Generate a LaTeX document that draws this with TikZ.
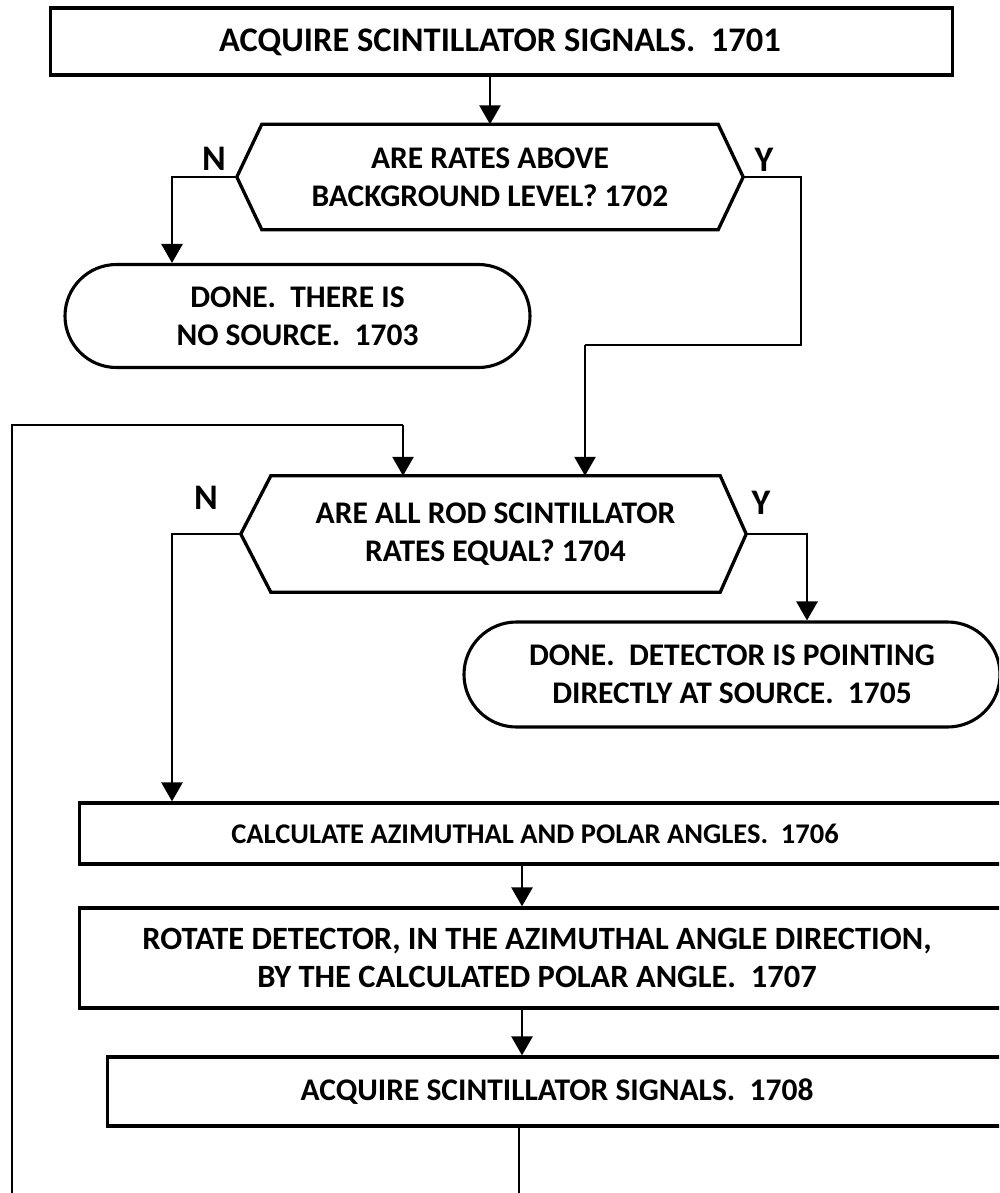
\documentclass[tikz,border=0pt]{standalone}
\usepackage{fontspec}
\setmainfont{Carlito}
\usetikzlibrary{arrows.meta,shapes.misc}
\tikzset{
  every node/.style={font=\fontsize{31.5}{38}\selectfont\bfseries, inner sep=0pt, align=center},
  ln/.style={line width=2.7pt, line join=miter},
  arr/.style={ln, -{Triangle[width=21pt,length=19pt]}},
  boxnode/.style={draw, line width=3.3pt, rectangle, anchor=west},
  decnode/.style={rectangle, draw=none},
  hexline/.style={line width=3.3pt, line join=miter},
  term/.style={draw, line width=3.1pt, rounded rectangle},
  yn/.style={font=\fontsize{36}{40}\selectfont\bfseries},
}
\begin{document}
\begin{tikzpicture}[x=1pt,y=-1pt]
\useasboundingbox (0,0) rectangle (999,1193);
\clip (0,0) rectangle (999,1193);

% 1701
\node[boxnode, minimum width=902pt, minimum height=67pt] (b1701) at (49,41.5) {};
\node[font=\fontsize{34.5}{40}\selectfont\bfseries] (t1701) at (500,42) {ACQUIRE SCINTILLATOR SIGNALS.\ \ 1701};

% 1702 decision
\node[decnode, minimum width=456pt, minimum height=105pt] (d1702) at (490,177) {ARE RATES ABOVE\\BACKGROUND LEVEL? 1702};
\coordinate (L1702) at ([xshift=-25pt]d1702.west);
\coordinate (R1702) at ([xshift=25pt]d1702.east);
\draw[hexline] (d1702.north west) -- (d1702.north east) -- (R1702) -- (d1702.south east) -- (d1702.south west) -- (L1702) -- cycle;
\node[yn] (n1702) at (214,159) {N};
\node[yn] (y1702) at (764,160) {Y};

% 1703
\node[term, minimum width=465pt, minimum height=103pt] (b1703) at (297.5,316) {DONE.\ \ THERE IS\\NO SOURCE.\ \ 1703};

% 1704 decision
\node[decnode, minimum width=449pt, minimum height=116pt] (d1704) at (495.5,534) {ARE ALL ROD SCINTILLATOR\\RATES EQUAL? 1704};
\coordinate (L1704) at ([xshift=-30pt]d1704.west);
\coordinate (R1704) at ([xshift=26pt]d1704.east);
\draw[hexline] (d1704.north west) -- (d1704.north east) -- (R1704) -- (d1704.south east) -- (d1704.south west) -- (L1704) -- cycle;
\node[yn] (n1704) at (206,498) {N};
\node[yn] (y1704) at (761,503) {Y};

% 1705
\node[term, minimum width=536pt, minimum height=105pt] (b1705) at (732,674.5) {DONE.\ \ DETECTOR IS POINTING\\DIRECTLY AT SOURCE.\ \ 1705};

% 1706
\node[boxnode, minimum width=1000pt, minimum height=61pt] (b1706) at (78,833.5) {};
\node[font=\fontsize{28.5}{34}\selectfont\bfseries] (t1706) at (535,833.5) {CALCULATE AZIMUTHAL AND POLAR ANGLES.\ \ 1706};

% 1707
\node[boxnode, minimum width=1000pt, minimum height=100pt] (b1707) at (78,958) {};
\node[font=\fontsize{32.5}{38}\selectfont\bfseries] (t1707) at (537,958) {ROTATE DETECTOR, IN THE AZIMUTHAL ANGLE DIRECTION,\\BY THE CALCULATED POLAR ANGLE.\ \ 1707};

% 1708
\node[boxnode, minimum width=1000pt, minimum height=69pt] (b1708) at (106,1091.5) {};
\node (t1708) at (557,1091.5) {ACQUIRE SCINTILLATOR SIGNALS.\ \ 1708};

% helper coordinates
\coordinate (yb1) at (801,345);
\coordinate (yb2) at (585,345);
\coordinate (lb) at (12,1200);
\coordinate (lt) at (12,425);
\coordinate (lr) at (403,425);
\coordinate (m1) at (522,0);
\coordinate (m2) at (519,0);
\coordinate (bot) at (0,1200);

% connectors
\draw[arr] (d1702.north |- b1701.south) -- (d1702.north);
\draw[arr] (L1702) -| ([xshift=-125.5pt]b1703.north);
\draw[ln] (R1702) -| (yb1) -- (yb2);
\draw[arr] (yb2) -- (yb2 |- d1704.north);
\draw[ln] (lb) -- (lt) -- (lr);
\draw[arr] (lr) -- (lr |- d1704.north);
\draw[arr] (L1704) -| ([xshift=94pt]b1706.north west);
\draw[arr] (R1704) -| ([xshift=75pt]b1705.north);
\draw[arr] (b1706.south -| m1) -- (b1707.north -| m1);
\draw[arr] (b1707.south -| m1) -- (b1708.north -| m1);
\draw[ln] (b1708.south -| m2) -- (m2 |- bot);
\end{tikzpicture}
\end{document}
